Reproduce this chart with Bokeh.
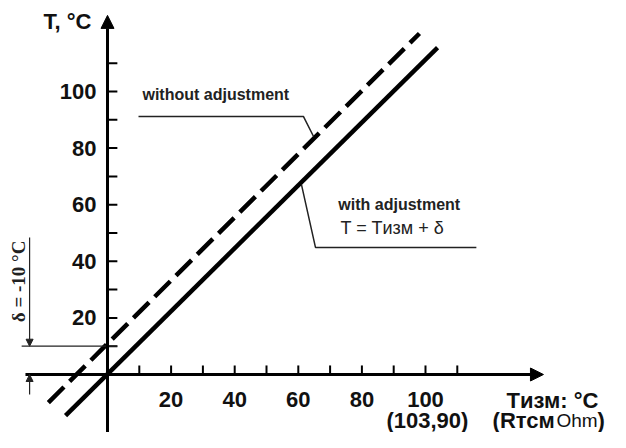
from bokeh.plotting import figure
from bokeh.models import Range1d, Arrow, NormalHead
from bokeh.core.properties import value
from bokeh.embed import file_html
from bokeh.resources import INLINE

# ---------------- data ----------------
tick_values = [10, 20, 30, 40, 50, 60, 70, 80, 90, 100, 110]
label_values = [20, 40, 60, 80, 100]
label_texts = ["20", "40", "60", "80", "100"]

# "with adjustment" line (solid): T = Tизм + δ
solid_x = [-13.2, 103.8]
solid_y = [-14.5, 115.5]
# "without adjustment" line (dashed)
dashed_x = [-18.6, 98.1]
dashed_y = [-9.9, 120.5]

delta = -10          # δ = -10 °C
x_axis_end = 137.1
y_axis_end = 126.9

FONT = value("Liberation Sans")
SERIF = value("Liberation Serif")

p = figure(width=610, height=432,
           x_range=Range1d(-33.65, 158.18), y_range=Range1d(-20.49, 132.16),
           output_backend="svg", toolbar_location=None,
           x_axis_type=None, y_axis_type=None, min_border=0)
p.outline_line_color = None
p.background_fill_color = "white"

# ---------------- axes (arrows) ----------------
p.add_layout(Arrow(end=NormalHead(size=13, fill_color="black", line_color="black"),
                   x_start=-25.8, y_start=0, x_end=x_axis_end, y_end=0,
                   line_width=3, line_color="black"))
p.add_layout(Arrow(end=NormalHead(size=13, fill_color="black", line_color="black"),
                   x_start=0, y_start=-30, x_end=0, y_end=y_axis_end,
                   line_width=3, line_color="black"))

# ticks
tick_len_x = 3.2
tick_len_y = 3.1
p.segment(x0=tick_values, y0=[0] * len(tick_values),
          x1=tick_values, y1=[tick_len_x] * len(tick_values),
          line_width=2, line_color="black")
p.segment(x0=[0] * len(tick_values), y0=tick_values,
          x1=[tick_len_y] * len(tick_values), y1=tick_values,
          line_width=2, line_color="black")

BIG = dict(text_font=FONT, text_font_style="bold", text_font_size="22px",
           text_color="#111111", text_baseline="middle")

# tick labels
p.text(x=label_values, y=[-8.9] * len(label_values), text=label_texts,
       text_align="center", **BIG)
p.text(x=[-3.5] * len(label_values), y=label_values, text=label_texts,
       text_align="right", **BIG)

# axis titles
p.text(x=[-20.1], y=[124.9], text=["T, °C"], text_align="left", **BIG)
p.text(x=[125.5], y=[-9.1], text=["Tизм: °C"], text_align="left", **BIG)
p.text(x=[100.6], y=[-16.4], text=["(103,90)"], text_align="center", **BIG)
p.text(x=[121.1], y=[-16.4], text=["(Rтсм"], text_align="left", **BIG)
p.text(x=[141.2], y=[-16.4], text=["Ohm"], text_align="left",
       text_baseline="middle", text_font=FONT,
       text_font_size="19px", text_color="#111111")
p.text(x=[154.1], y=[-16.4], text=[")"], text_align="left", **BIG)

# ---------------- main lines ----------------
p.line(dashed_x, dashed_y, line_width=4.5, line_color="black",
       line_dash="22 8", line_cap="butt")
p.line(solid_x, solid_y, line_width=4.5, line_color="black")

# ---------------- leaders & annotations ----------------
p.line([9.75, 61.6, 64.8], [91.2, 91.2, 84.1], line_width=1.5, line_color="#222222")
p.text(x=[11.0], y=[98.9], text=["without adjustment"], text_align="left",
       text_baseline="middle", text_font=FONT, text_font_style="bold",
       text_font_size="16px", text_color="#222222")

p.line([61.0, 65.4, 116.0], [67.1, 44.9, 44.9], line_width=1.5, line_color="#222222")
p.text(x=[72.6], y=[60.1], text=["with adjustment"], text_align="left",
       text_baseline="middle", text_font=FONT, text_font_style="bold",
       text_font_size="16px", text_color="#222222")
p.text(x=[73.3], y=[51.8], text=["T = Tизм + δ"], text_align="left",
       text_baseline="middle", text_font=FONT,
       text_font_size="18px", text_color="#222222")

# δ offset markers
p.segment(x0=[-27.0], y0=[abs(delta)], x1=[3.1], y1=[abs(delta)],
          line_width=1.2, line_color="#222222")
p.add_layout(Arrow(end=NormalHead(size=7, fill_color="#222222", line_color="#222222"),
                   x_start=-24.5, y_start=48.4, x_end=-24.5, y_end=abs(delta),
                   line_width=1.2, line_color="#222222"))
p.add_layout(Arrow(end=NormalHead(size=7, fill_color="#222222", line_color="#222222"),
                   x_start=-24.5, y_start=-7.1, x_end=-24.5, y_end=0,
                   line_width=1.2, line_color="#222222"))
p.text(x=[-28.0], y=[32.9], text=["δ = -10 °C"], angle=1.5708,
       text_align="center", text_baseline="middle", text_font=SERIF,
       text_font_style="bold", text_font_size="19px", text_color="#222222")

open("out.html", "w").write(file_html(p, INLINE))
